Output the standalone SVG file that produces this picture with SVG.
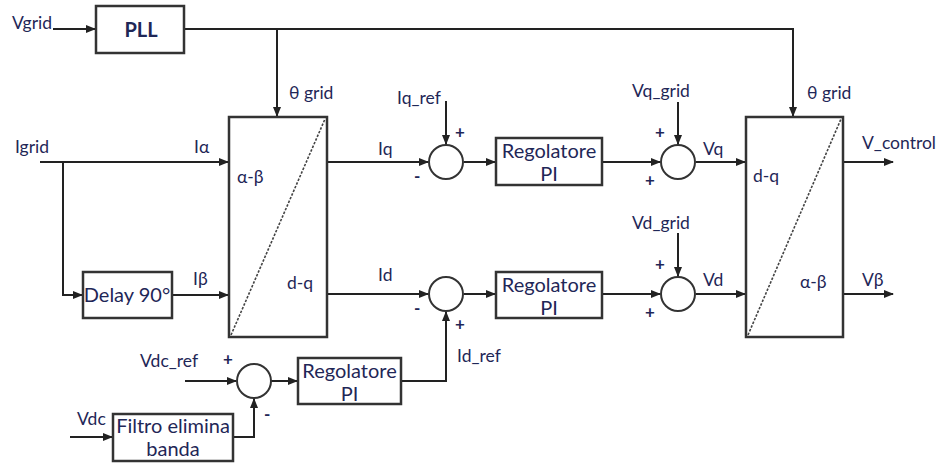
<svg xmlns="http://www.w3.org/2000/svg" width="940" height="468" viewBox="0 0 940 468">
<style>
text{font-family:Lato,"Open Sans","Liberation Sans",sans-serif;fill:#1f2757}
.lb{font-size:17.5px}
.bx{font-size:20px;text-anchor:middle}
.sg{font-size:17px;font-weight:bold}
.box{fill:#fff;stroke:#333;stroke-width:2.5}
.sum{fill:#fff;stroke:#333;stroke-width:2}
.w{fill:none;stroke:#222;stroke-width:2}
.diag{stroke:#444;stroke-width:1.6;stroke-dasharray:2.5 1.5}
</style>
<defs>
<marker id="ar" markerWidth="10" markerHeight="8" refX="9" refY="4" orient="auto" markerUnits="userSpaceOnUse">
<path d="M0,0 L10,4 L0,8 Z" fill="#222"/>
</marker>
</defs>
<rect width="940" height="468" fill="#fff"/>
<g id="connectors">
<path class="w" d="M53,29 H95" marker-end="url(#ar)"/>
<path class="w" d="M184,29 H793 V116" marker-end="url(#ar)"/>
<path class="w" d="M277,29 V116" marker-end="url(#ar)"/>
<path class="w" d="M40,162 H228" marker-end="url(#ar)"/>
<path class="w" d="M63,162 V295 H82" marker-end="url(#ar)"/>
<path class="w" d="M172,295 H228" marker-end="url(#ar)"/>
<path class="w" d="M327,162 H428" marker-end="url(#ar)"/>
<path class="w" d="M464,162 H495" marker-end="url(#ar)"/>
<path class="w" d="M446,101 V144" marker-end="url(#ar)"/>
<path class="w" d="M602,162 H660" marker-end="url(#ar)"/>
<path class="w" d="M678,102 V144" marker-end="url(#ar)"/>
<path class="w" d="M696,162 H745" marker-end="url(#ar)"/>
<path class="w" d="M327,294 H428" marker-end="url(#ar)"/>
<path class="w" d="M464,294 H495" marker-end="url(#ar)"/>
<path class="w" d="M602,294 H660" marker-end="url(#ar)"/>
<path class="w" d="M678,233 V276" marker-end="url(#ar)"/>
<path class="w" d="M696,294 H745" marker-end="url(#ar)"/>
<path class="w" d="M843,162 H893" marker-end="url(#ar)"/>
<path class="w" d="M843,294 H893" marker-end="url(#ar)"/>
<path class="w" d="M185,381 H236" marker-end="url(#ar)"/>
<path class="w" d="M271,381 H297" marker-end="url(#ar)"/>
<path class="w" d="M401,381 H446 V312" marker-end="url(#ar)"/>
<path class="w" d="M70,437 H112" marker-end="url(#ar)"/>
<path class="w" d="M233,437 H254 V399" marker-end="url(#ar)"/>
</g>
<g id="pll"><rect class="box" x="96" y="6" width="88" height="47"/><text class="bx" x="141" y="37" font-weight="bold" font-size="18">PLL</text></g>
<g id="abdq"><rect class="box" x="229" y="117" width="98" height="220"/><line class="diag" x1="231" y1="335" x2="325" y2="119"/>
<text class="lb" x="237" y="183">α-β</text><text class="lb" x="287" y="289">d-q</text></g>
<g id="delay"><rect class="box" x="83" y="272" width="89" height="46"/><text class="bx" x="127" y="302">Delay 90°</text></g>
<g id="sumq"><circle class="sum" cx="446" cy="162" r="17"/></g>
<g id="sumd"><circle class="sum" cx="446" cy="294" r="17"/></g>
<g id="piq"><rect class="box" x="496" y="138" width="106" height="47"/><text class="bx" x="549" y="158">Regolatore</text><text class="bx" x="549" y="181">PI</text></g>
<g id="pid"><rect class="box" x="496" y="272" width="106" height="46"/><text class="bx" x="549" y="292">Regolatore</text><text class="bx" x="549" y="315">PI</text></g>
<g id="sumvq"><circle class="sum" cx="678" cy="162" r="17"/></g>
<g id="sumvd"><circle class="sum" cx="678" cy="294" r="17"/></g>
<g id="dqab"><rect class="box" x="746" y="117" width="97" height="220"/><line class="diag" x1="748" y1="335" x2="841" y2="119"/>
<text class="lb" x="753" y="182">d-q</text><text class="lb" x="800" y="288">α-β</text></g>
<g id="sumdc"><circle class="sum" cx="254" cy="381" r="17"/></g>
<g id="pidc"><rect class="box" x="298" y="358" width="103" height="46"/><text class="bx" x="349.5" y="378">Regolatore</text><text class="bx" x="349.5" y="401">PI</text></g>
<g id="filtro"><rect class="box" x="113" y="414" width="120" height="47"/><text class="bx" x="173" y="433">Filtro elimina</text><text class="bx" x="173" y="456">banda</text></g>
<g id="labels">
<text class="lb" x="12" y="29">Vgrid</text>
<text class="lb" x="289" y="99">θ grid</text>
<text class="lb" x="807" y="99">θ grid</text>
<text class="lb" x="15" y="153">Igrid</text>
<text class="lb" x="194" y="153">Iα</text>
<text class="lb" x="193" y="285">Iβ</text>
<text class="lb" x="378" y="155">Iq</text>
<text class="lb" x="378" y="281">Id</text>
<text class="lb" x="397" y="104">Iq_ref</text>
<text class="lb" x="632" y="97">Vq_grid</text>
<text class="lb" x="632" y="229">Vd_grid</text>
<text class="lb" x="703" y="155">Vq</text>
<text class="lb" x="703" y="286">Vd</text>
<text class="lb" x="862" y="149">V_control</text>
<text class="lb" x="862" y="286">Vβ</text>
<text class="lb" x="140" y="367">Vdc_ref</text>
<text class="lb" x="77" y="425">Vdc</text>
<text class="lb" x="457" y="362">Id_ref</text>
<text class="sg" x="455" y="138">+</text>
<text class="sg" x="414" y="182">-</text>
<text class="sg" x="655" y="138">+</text>
<text class="sg" x="645" y="186">+</text>
<text class="sg" x="655" y="270">+</text>
<text class="sg" x="645" y="318">+</text>
<text class="sg" x="414" y="314">-</text>
<text class="sg" x="455" y="330">+</text>
<text class="sg" x="223" y="365">+</text>
<text class="sg" x="264" y="420">-</text>
</g>
</svg>
